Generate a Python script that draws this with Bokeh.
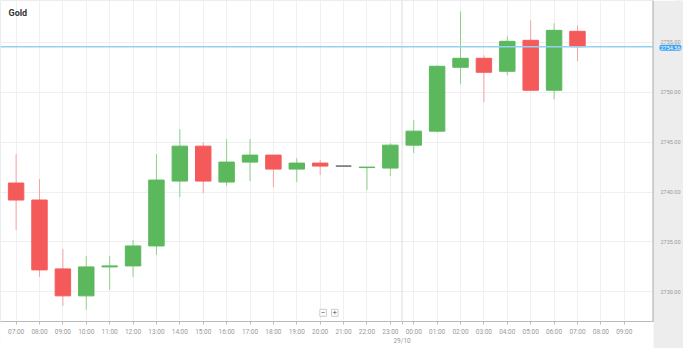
from bokeh.plotting import figure
from bokeh.models import Range1d, FixedTicker, Span, Label, ColumnDataSource, NumeralTickFormatter
from bokeh.embed import file_html
from bokeh.resources import INLINE

# ---- data ----
tick_labels = ["07:00", "08:00", "09:00", "10:00", "11:00", "12:00", "13:00", "14:00",
               "15:00", "16:00", "17:00", "18:00", "19:00", "20:00", "21:00", "22:00",
               "23:00", "00:00", "01:00", "02:00", "03:00", "04:00", "05:00", "06:00",
               "07:00", "08:00", "09:00"]
opens  = [2740.9, 2739.2, 2732.3, 2729.6, 2732.5, 2732.6, 2734.6, 2741.1, 2744.6, 2741.0,
          2743.0, 2743.7, 2742.3, 2742.9, 2742.6, 2742.45, 2742.4, 2744.7, 2746.1, 2752.5,
          2753.4, 2752.1, 2755.2, 2750.2, 2756.1]
closes = [2739.2, 2732.2, 2729.6, 2732.5, 2732.6, 2734.6, 2741.2, 2744.6, 2741.1, 2743.0,
          2743.7, 2742.3, 2742.9, 2742.6, 2742.6, 2742.5, 2744.7, 2746.1, 2752.6, 2753.4,
          2752.0, 2755.1, 2750.2, 2756.2, 2754.56]
highs  = [2743.8, 2741.3, 2734.3, 2733.6, 2733.6, 2735.2, 2743.8, 2746.3, 2745.0, 2745.3,
          2745.3, 2743.7, 2743.4, 2743.2, 2742.6, 2742.5, 2744.9, 2747.2, 2752.7, 2758.1,
          2753.7, 2755.6, 2757.2, 2756.9, 2756.7]
lows   = [2736.2, 2731.5, 2728.6, 2728.2, 2730.2, 2731.5, 2733.7, 2739.5, 2739.9, 2740.6,
          2741.1, 2740.5, 2741.0, 2741.7, 2742.6, 2740.2, 2741.6, 2743.9, 2746.0, 2750.8,
          2749.0, 2751.7, 2750.1, 2749.3, 2753.1]
y_ticks = [2730, 2735, 2740, 2745, 2750, 2755]
last_price = 2754.56
day_break = 16.5          # between 23:00 and 00:00
date_label = "29/10"
title_text = "Gold"

GREEN, GREEN_W = "#5cb85c", "#8fd08c"
RED, RED_W = "#f55a5a", "#f7a3a3"
FLAT = "#666666"
PANEL = "#ededed"

idx = list(range(len(opens)))
body_col, wick_col, tops, bots = [], [], [], []
for o, c in zip(opens, closes):
    if c > o:
        body_col.append(GREEN); wick_col.append(GREEN_W)
    elif c < o:
        body_col.append(RED); wick_col.append(RED_W)
    else:
        body_col.append(FLAT); wick_col.append(FLAT)
    tops.append(max(o, c)); bots.append(min(o, c))

src = ColumnDataSource(dict(x=idx, top=tops, bottom=bots, high=highs, low=lows,
                            body=body_col, wick=wick_col))

X0, X1 = -0.667, 27.25
W, H = 683, 348
p = figure(width=W, height=H, x_range=Range1d(X0, X1),
           y_range=Range1d(2727.03, 2759.19), y_axis_location="right",
           output_backend="svg", toolbar_location=None,
           min_border_left=0, min_border_top=0, min_border_right=10, min_border_bottom=10)
p.outline_line_color = "#ececec"
p.background_fill_color = "white"
p.border_fill_color = PANEL

p.segment(x0="x", y0="high", x1="x", y1="low", color="wick", line_width=1, source=src)
p.vbar(x="x", width=0.66, top="top", bottom="bottom", fill_color="body",
       line_color="body", line_width=1, source=src)

# time axis (day label as a second line under the day break)
hour_ticks = list(range(len(tick_labels)))
overrides = {i: t for i, t in enumerate(tick_labels)}
overrides[day_break] = "\n" + date_label
p.xaxis.ticker = FixedTicker(ticks=hour_ticks + [day_break])
p.xaxis.major_label_overrides = overrides
p.xaxis.axis_line_color = "#bbbbbb"
p.xaxis.major_tick_line_color = "#bbbbbb"
p.xaxis.major_tick_in = 0
p.xaxis.major_tick_out = 3
p.xaxis.minor_tick_line_color = None
p.xaxis.major_label_standoff = 3
p.xaxis.major_label_text_font_size = "6.5px"
p.xaxis.major_label_text_color = "#999999"
p.xaxis.major_label_text_font = "Roboto"
p.xaxis.background_fill_color = "white"

# price axis
yax = p.yaxis[0]
yax.ticker = FixedTicker(ticks=y_ticks)
yax.formatter = NumeralTickFormatter(format="0.00")
yax.axis_line_color = None
yax.major_tick_line_color = None
yax.major_tick_in = 0
yax.major_tick_out = 0
yax.minor_tick_line_color = None
yax.major_label_standoff = -15
yax.major_label_text_font_size = "5.5px"
yax.major_label_text_color = "#999999"
yax.major_label_text_font = "Roboto"
yax.background_fill_color = PANEL

p.xgrid.grid_line_color = "#f0f0f0"
p.ygrid.grid_line_color = "#f0f0f0"
p.xgrid.ticker = FixedTicker(ticks=hour_ticks)
p.ygrid.ticker = FixedTicker(ticks=y_ticks)

# frame edge line (price axis line), day separator, price line
p.add_layout(Span(location=X1, dimension="height", line_color="#aaaaaa", line_width=2))
p.add_layout(Span(location=day_break, dimension="height", line_color="#dddddd", line_width=1))
p.add_layout(Span(location=last_price, dimension="width", line_color="#94d2f5", line_width=1.5))

# current price tag in the price-axis panel (next to the frame)
tag = Label(x=6, x_units="screen", y=last_price, y_offset=-1, text="%.2f" % last_price,
            text_baseline="middle", text_font_size="5.5px", text_color="white",
            text_font="Roboto", background_fill_color="#3ea3f2",
            padding=1, border_radius=2)
p.right = [tag, yax]

p.add_layout(Label(x=X0, y=2759.19, x_offset=8, y_offset=-12, text=title_text,
                   text_baseline="middle", text_font_size="9px", text_font_style="bold",
                   text_color="#333333", text_font="Roboto"))

for xx, t in [(13.125, "\u2212"), (13.625, "+")]:
    p.add_layout(Label(x=xx, y=2727.9, text=t, text_align="center", text_baseline="middle",
                       text_font_size="8px", text_color="#555555", text_font="Roboto",
                       background_fill_color="white", border_line_color="#cccccc",
                       padding=1))

open("out.html", "w").write(file_html(p, INLINE))
